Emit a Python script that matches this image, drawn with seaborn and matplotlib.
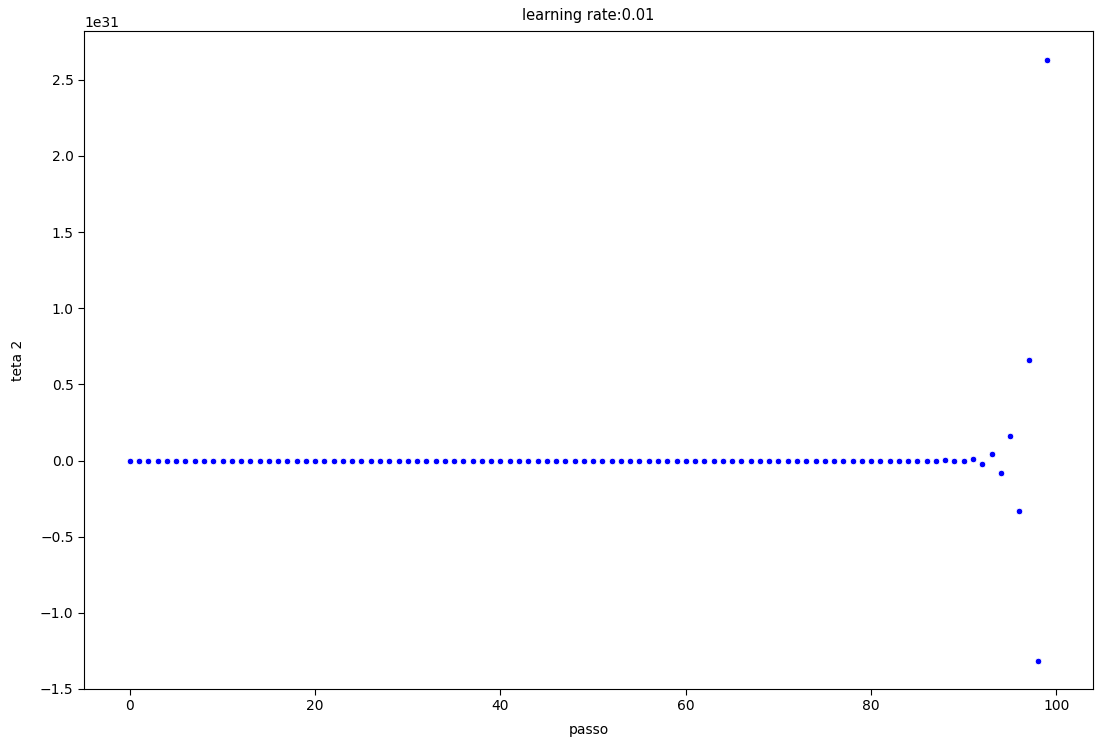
import matplotlib
matplotlib.use("Agg")
import matplotlib.pyplot as plt
import seaborn as sns
import pandas as pd

# Step index of the gradient descent run
passo = list(range(100))

# theta_2 value at each step, in units of 1e31
teta2_e31 = [
    0.0, 0.0, 0.0, 0.0, 0.0, 0.0, 0.0, 0.0, 0.0, 0.0,
    0.0, 0.0, 0.0, 0.0, 0.0, 0.0, 0.0, 0.0, 0.0, 0.0,
    0.0, 0.0, 0.0, 0.0, 0.0, 0.0, 0.0, 0.0, 0.0, 0.0,
    0.0, 0.0, 0.0, 0.0, 0.0, 0.0, 0.0, 0.0, 0.0, 0.0,
    0.0, 0.0, 0.0, 0.0, 0.0, 0.0, 0.0, 0.0, 0.0, 0.0,
    0.0, 0.0, 0.0, 0.0, 0.0, 0.0, 0.0, 0.0, 0.0, 0.0,
    0.0, 0.0, 0.0, 0.0, 0.0, 0.0, 0.0, 0.0, 0.0, 0.0,
    0.0, 0.0, 0.0, 0.0, 0.0, 0.0, 0.0, 0.0, 0.0, 0.0,
    0.0, 0.0, 0.0, 0.0, 0.0, 0.0, 0.0001, -0.0003, 0.0006, -0.0013,
    -0.0051, 0.0103, -0.0205, 0.041, -0.082, 0.164, -0.329, 0.6575, -1.315, 2.63,
]

df = pd.DataFrame({"passo": passo, "teta 2": [v * 1e31 for v in teta2_e31]})

W, H, DPI = 1095, 744, 100
fig = plt.figure(figsize=(W / DPI, H / DPI), dpi=DPI)
ax = fig.add_axes([84 / W, 1 - 689 / H, (1093 - 84) / W, (689 - 31) / H])

sns.scatterplot(data=df, x="passo", y="teta 2", color="blue", s=22,
                edgecolor="white", linewidth=0.6, ax=ax)

ax.set_title("learning rate:0.01", fontsize=10.5, pad=8)
ax.set_xlabel("passo", fontsize=10, labelpad=7)
ax.set_ylabel("teta 2", fontsize=10, labelpad=11)
ax.set_ylim(-1.5e31, 2.82e31)
ax.tick_params(labelsize=10, length=4)
ax.yaxis.get_offset_text().set_fontsize(10)

fig.savefig("out.png", dpi=DPI)
